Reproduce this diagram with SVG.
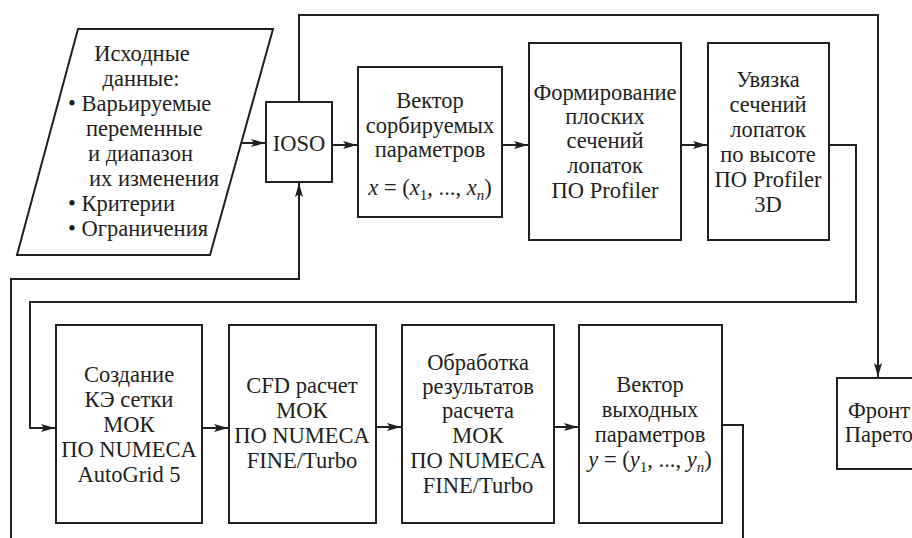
<svg xmlns="http://www.w3.org/2000/svg" width="912" height="538" viewBox="0 0 912 538">
<defs>
<style>
.box{fill:#fff;stroke:#231f20;stroke-width:2}
.ln{fill:none;stroke:#231f20;stroke-width:2}
text{font-family:"Liberation Serif","DejaVu Serif Condensed","DejaVu Serif",serif;font-size:22.5px;fill:#231f20}
.c{text-anchor:middle}
.i{font-style:italic}
</style>
<marker id="ah" viewBox="0 0 14 8" refX="14" refY="4" markerWidth="14" markerHeight="8" markerUnits="userSpaceOnUse" orient="auto">
<path d="M0,0 L14,4 L0,8 L3,4 Z" fill="#231f20"/>
</marker>
</defs>
<rect width="912" height="538" fill="#fff"/>
<g id="connectors">
<path class="ln" d="M242,143 H265" marker-end="url(#ah)"/>
<path class="ln" d="M299,102 V15 H878 V377" marker-end="url(#ah)"/>
<path class="ln" d="M11,538 V279 H299 V183" marker-end="url(#ah)"/>
<path class="ln" d="M332,145 H357" marker-end="url(#ah)"/>
<path class="ln" d="M502,145 H528" marker-end="url(#ah)"/>
<path class="ln" d="M681,145 H707" marker-end="url(#ah)"/>
<path class="ln" d="M829,145 H856 V302 H30 V428 H55" marker-end="url(#ah)"/>
<path class="ln" d="M202,428 H228" marker-end="url(#ah)"/>
<path class="ln" d="M376,427 H401" marker-end="url(#ah)"/>
<path class="ln" d="M554,427 H578" marker-end="url(#ah)"/>
<path class="ln" d="M722,425 H743 V538"/>
</g>
<g id="input">
<polygon class="box" points="78,29 273,29 210,255 17,255"/>
<text class="c" x="142" y="61">Исходные</text>
<text class="c" x="141" y="86">данные:</text>
<text x="68" y="111">• Варьируемые</text>
<text x="86" y="136">переменные</text>
<text x="88" y="161">и диапазон</text>
<text x="89" y="186">их изменения</text>
<text x="68" y="211">• Критерии</text>
<text x="68" y="236">• Ограничения</text>
</g>
<g id="ioso">
<rect class="box" x="266" y="102" width="66" height="80"/>
<text class="c" x="299" y="151">IOSO</text>
</g>
<g id="vector-in">
<rect class="box" x="358" y="67" width="144" height="150"/>
<text class="c" x="430" y="108">Вектор</text>
<text class="c" x="430" y="133">сорбируемых</text>
<text class="c" x="430" y="157">параметров</text>
<text class="c" x="430" y="195"><tspan class="i">x</tspan> = (<tspan class="i">x</tspan><tspan font-size="15" dy="5">1</tspan><tspan dy="-5">, ..., </tspan><tspan class="i">x</tspan><tspan class="i" font-size="15" dy="5">n</tspan><tspan dy="-5">)</tspan></text>
</g>
<g id="profiler">
<rect class="box" x="529" y="43" width="152" height="197"/>
<text class="c" x="605" y="100">Формирование</text>
<text class="c" x="605" y="124">плоских</text>
<text class="c" x="605" y="148">сечений</text>
<text class="c" x="605" y="173">лопаток</text>
<text class="c" x="605" y="198">ПО Profiler</text>
</g>
<g id="profiler3d">
<rect class="box" x="708" y="43" width="121" height="197"/>
<text class="c" x="768" y="87">Увязка</text>
<text class="c" x="768" y="112">сечений</text>
<text class="c" x="768" y="137">лопаток</text>
<text class="c" x="768" y="162">по высоте</text>
<text class="c" x="768" y="187">ПО Profiler</text>
<text class="c" x="768" y="212">3D</text>
</g>
<g id="autogrid">
<rect class="box" x="56" y="325" width="146" height="198"/>
<text class="c" x="129" y="382">Создание</text>
<text class="c" x="129" y="407">КЭ сетки</text>
<text class="c" x="129" y="432">МОК</text>
<text class="c" x="129" y="457">ПО NUMECA</text>
<text class="c" x="129" y="482">AutoGrid 5</text>
</g>
<g id="cfd">
<rect class="box" x="229" y="325" width="147" height="198"/>
<text class="c" x="302" y="393">CFD расчет</text>
<text class="c" x="302" y="418">МОК</text>
<text class="c" x="302" y="443">ПО NUMECA</text>
<text class="c" x="302" y="468">FINE/Turbo</text>
</g>
<g id="postproc">
<rect class="box" x="402" y="325" width="152" height="198"/>
<text class="c" x="478" y="370">Обработка</text>
<text class="c" x="478" y="394">результатов</text>
<text class="c" x="478" y="418">расчета</text>
<text class="c" x="478" y="443">МОК</text>
<text class="c" x="478" y="468">ПО NUMECA</text>
<text class="c" x="478" y="493">FINE/Turbo</text>
</g>
<g id="vector-out">
<rect class="box" x="579" y="325" width="143" height="198"/>
<text class="c" x="650" y="392">Вектор</text>
<text class="c" x="650" y="417">выходных</text>
<text class="c" x="650" y="442">параметров</text>
<text class="c" x="650" y="467"><tspan class="i">y</tspan> = (<tspan class="i">y</tspan><tspan font-size="15" dy="5">1</tspan><tspan dy="-5">, ..., </tspan><tspan class="i">y</tspan><tspan class="i" font-size="15" dy="5">n</tspan><tspan dy="-5">)</tspan></text>
</g>
<g id="pareto">
<rect class="box" x="837" y="378" width="84" height="91"/>
<text class="c" x="879" y="418">Фронт</text>
<text class="c" x="879" y="442">Парето</text>
</g>
</svg>
